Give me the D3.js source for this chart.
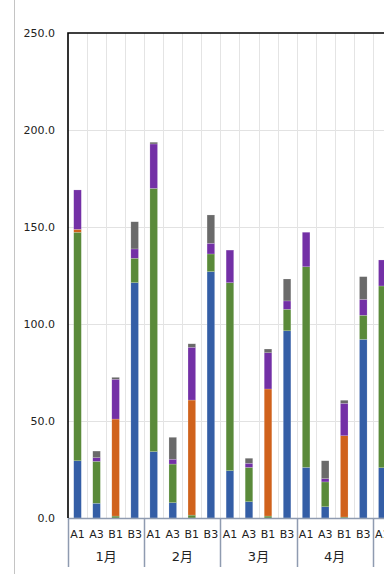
<!DOCTYPE html>
<html><head><meta charset="utf-8">
<script src="https://cdn.jsdelivr.net/npm/d3@7"></script>
<style>body{margin:0;background:#fff}svg{display:block}</style>
</head><body>
<svg id="c" width="384" height="574"></svg>
<script>
const months = ["1月","2月","3月","4月","5月"];
const cats = ["A1","A3","B1","B3"];
const yTicks = [0,50,100,150,200,250];
const seriesNames = ["s1","s2","s3","s4","s5"];
const blue   = [29.5, 7.6, 0, 121.3, 34.2, 7.9, 0, 127.0, 24.4, 8.4, 0, 96.5, 26.1, 5.8, 0, 92.1, 25.9];
const green  = [117.8, 21.6, 1.0, 12.6, 135.7, 19.9, 1.5, 9.1, 96.9, 17.7, 1.0, 11.1, 103.4, 12.8, 0.5, 12.4, 93.7];
const orange = [1.5, 0, 50.0, 0, 0, 0, 59.3, 0, 0, 0, 65.5, 0, 0, 0, 41.9, 0, 0];
const purple = [20.3, 1.9, 20.5, 4.8, 22.9, 2.5, 27.2, 5.5, 16.8, 2.1, 18.7, 4.3, 17.8, 1.7, 16.7, 8.2, 13.4];
const gray   = [0, 3.4, 1.0, 14.0, 0.9, 11.3, 1.8, 14.6, 0, 2.6, 1.9, 11.3, 0, 9.2, 1.6, 11.7, 0];
const colors = ["#345ea6","#5a8a3a","#d0621c","#7330a6","#6a6a6a"];

const slots = [];
months.forEach(m => cats.forEach(c => slots.push(m + "|" + c)));
const data = blue.map((v,i) => ({key: slots[i], s1: v, s2: green[i], s3: orange[i], s4: purple[i], s5: gray[i]}));

const svg = d3.select("#c");
const L = 68, T = 33, B = 518, step = 19.05;
const x = d3.scaleBand().domain(slots).range([L, L + step*slots.length]).padding(0);
const y = d3.scaleLinear().domain([0,250]).range([B, T]);
const bw = 7.6;

// outer frame line
svg.append("line").attr("x1",14.5).attr("x2",14.5).attr("y1",0).attr("y2",574).attr("stroke","#c4c4c4");

// gridlines
svg.append("g").selectAll("line").data(yTicks.filter(t=>t>0 && t<250)).join("line")
  .attr("x1",L).attr("x2",384).attr("y1",d=>y(d)+0.5).attr("y2",d=>y(d)+0.5)
  .attr("stroke","#e2e2e2");
svg.append("g").selectAll("line").data(slots.slice(1)).join("line")
  .attr("x1",d=>Math.round(x(d))+0.5).attr("x2",d=>Math.round(x(d))+0.5).attr("y1",T).attr("y2",B)
  .attr("stroke","#e4e4e4");

// bars
const stack = d3.stack().keys(seriesNames)(data);
svg.append("g").selectAll("g").data(stack).join("g")
  .attr("fill",(d,i)=>colors[i])
  .selectAll("rect").data(d=>d.filter(p=>p[1]-p[0]>0)).join("rect")
  .attr("x",d=>x(d.data.key)+x.bandwidth()/2-bw/2)
  .attr("width",bw)
  .attr("y",d=>y(d[1]))
  .attr("height",d=>y(d[0])-y(d[1]))
  .attr("stroke","rgba(255,255,255,0.35)").attr("stroke-width",0.5);

// x axis line
svg.append("line").attr("x1",L).attr("x2",384).attr("y1",B+0.5).attr("y2",B+0.5).attr("stroke","#8f9bb0").attr("stroke-width",1.5);
// group separators
svg.append("g").selectAll("line").data(months).join("line")
  .attr("x1",d=>Math.round(x(d+"|A1"))+0.5).attr("x2",d=>Math.round(x(d+"|A1"))+0.5)
  .attr("y1",B).attr("y2",567).attr("stroke","#8f9bb0").attr("stroke-width",1.5);

// plot border (top & left)
svg.append("path").attr("d",`M${L},${B} V${T} H384`).attr("fill","none").attr("stroke","#000").attr("stroke-width",1.6);

// y tick labels
svg.append("g").selectAll("text").data(yTicks).join("text")
  .attr("x",55).attr("y",d=>y(d)).attr("dy","0.35em").attr("text-anchor","end")
  .attr("font-family","DejaVu Sans").attr("font-size",11).attr("fill","#222")
  .text(d3.format(".1f"));

// category labels
svg.append("g").selectAll("text").data(slots).join("text")
  .attr("x",d=>x(d)+x.bandwidth()/2).attr("y",534).attr("dy","0.35em").attr("text-anchor","middle")
  .attr("font-family","DejaVu Sans").attr("font-size",11).attr("fill","#222")
  .text(d=>d.split("|")[1]);

// month labels
svg.append("g").selectAll("text").data(months).join("text")
  .attr("x",d=>x(d+"|A1")+step*2).attr("y",556).attr("dy","0.35em").attr("text-anchor","middle")
  .attr("font-family","DejaVu Sans, Noto Sans CJK SC").attr("font-size",13).attr("fill","#222")
  .text(d=>d);
</script>
</body></html>
